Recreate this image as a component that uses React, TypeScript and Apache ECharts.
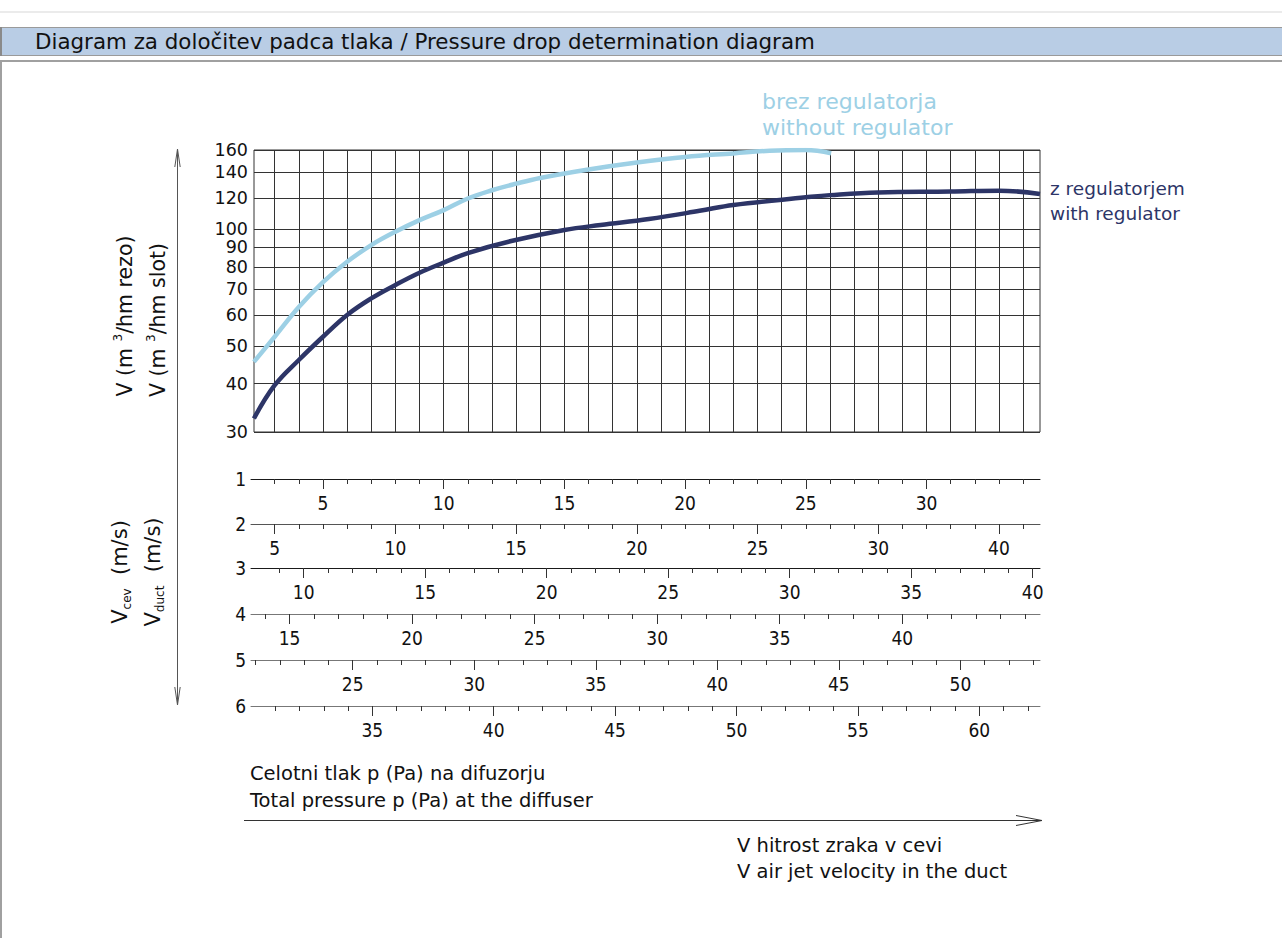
import React, { useEffect, useRef } from "react";
import * as echarts from "echarts";

const FONT = "DejaVu Sans";
const FONT_C = "'DejaVu Sans Condensed', 'DejaVu Sans'";

// ---------- upper chart (log scale) ----------
const yTicks = [30, 40, 50, 60, 70, 80, 90, 100, 120, 140, 160];
// vertical grid lines, in units of pressure scale "1"
const xGridLines = [3, 4, 5, 6, 7, 8, 9, 10, 11, 12, 13, 14, 15, 16, 17, 18, 19, 20, 21, 22, 23, 24, 25, 26, 27, 28, 29, 30, 31, 32, 33, 34];

// curve without regulator (light blue)
const lightX = [2.14, 3, 4, 5, 6, 7, 8, 9, 10, 11, 12, 13, 14, 16, 18, 20, 22, 23.5, 25, 26.05];
const lightY = [45.5, 52.8, 63, 73, 82.4, 91, 98.5, 105.5, 112, 120, 126, 131, 135.5, 142.5, 148.5, 153.5, 156.8, 159.3, 160, 157];

// curve with regulator (dark blue)
const darkX = [2.14, 3, 4, 5, 6, 7, 8, 9, 10, 11, 12.8, 15, 16.5, 18.5, 20.6, 22, 25, 26, 28, 31, 33, 34.7];
const darkY = [32.5, 39.6, 46, 52.8, 60.1, 66.3, 71.8, 77.2, 82, 86.8, 93.2, 99.5, 102.5, 106.2, 111.5, 115.5, 120.8, 122.4, 124.4, 125, 125.7, 123.2];

// ---------- lower pressure scales ----------
const rowNames = ["1", "2", "3", "4", "5", "6"];
const rowMajor = [
  [5, 10, 15, 20, 25, 30],
  [5, 10, 15, 20, 25, 30, 35],
  [10, 15, 20, 25, 30, 35, 40],
  [15, 20, 25, 30, 35, 40],
  [25, 30, 35, 40, 45, 50],
  [35, 40, 45, 50, 55, 60],
];
const rowMajorLabels = [
  ["5", "10", "15", "20", "25", "30"],
  ["5", "10", "15", "20", "25", "30", "40"],
  ["10", "15", "20", "25", "30", "35", "40"],
  ["15", "20", "25", "30", "35", "40"],
  ["25", "30", "35", "40", "45", "50"],
  ["35", "40", "45", "50", "55", "60"],
];
const rowMinorRange = [
  [3, 34],
  [5, 36],
  [9, 40],
  [14, 45],
  [21, 53],
  [31, 62],
];
const rowExtent = [
  [2.018, 34.7],
  [4.018, 36.7],
  [7.831, 40.3],
  [13.426, 45.62],
  [20.815, 53.275],
  [30.003, 62.5],
];

const TITLE = "Diagram za določitev padca tlaka / Pressure drop determination diagram";

function range(a: number, b: number) {
  const r: number[] = [];
  for (let i = a; i <= b; i++) r.push(i);
  return r;
}

export default function App() {
  const ref = useRef<HTMLDivElement>(null);
  useEffect(() => {
    if (!ref.current) return;
    const chart = echarts.init(ref.current, undefined, { renderer: "svg" });

    const rowY = [479, 524, 568, 614, 660, 706];
    const rowLineColor = ["#1a1a1a", "#555", "#1a1a1a", "#777", "#777", "#777"];

    const grids: any[] = [
      { left: 254, top: 150, width: 786, height: 282, show: true, borderColor: "#333", borderWidth: 1 },
    ];
    const xAxes: any[] = [
      {
        gridIndex: 0,
        type: "value",
        min: 2.1425,
        max: 34.7,
        axisLine: { show: false },
        axisTick: { show: false, customValues: xGridLines },
        axisLabel: { show: false },
        splitLine: { show: true, lineStyle: { color: "#333", width: 1 } },
      },
    ];
    const yAxes: any[] = [
      {
        gridIndex: 0,
        type: "log",
        logBase: 10,
        min: 30,
        max: 160,
        axisLine: { show: false },
        axisTick: { show: false, customValues: yTicks },
        axisLabel: {
          show: true,
          customValues: yTicks,
          fontSize: 17.5,
          lineHeight: 15,
          fontFamily: FONT,
          color: "#111",
          margin: 6,
        },
        splitLine: { show: true, lineStyle: { color: "#333", width: 1 } },
      },
    ];

    rowY.forEach((y, i) => {
      grids.push({ left: 251, width: 789, top: y - 20, height: 20, show: false });
      const [mn, mx] = rowExtent[i];
      xAxes.push({
        gridIndex: i + 1,
        type: "value",
        position: "bottom",
        min: mn,
        max: mx,
        axisLine: { show: true, onZero: false, lineStyle: { color: rowLineColor[i], width: 1 } },
        axisTick: { show: true, customValues: range(rowMinorRange[i][0], rowMinorRange[i][1]), length: 5, lineStyle: { color: "#333" } },
        axisLabel: { show: false },
        splitLine: { show: false },
      });
      xAxes.push({
        gridIndex: i + 1,
        type: "value",
        position: "bottom",
        min: mn,
        max: mx,
        axisLine: { show: false, onZero: false },
        axisTick: { show: true, customValues: rowMajor[i], length: 10, lineStyle: { color: "#333" } },
        axisLabel: {
          show: true,
          customValues: rowMajor[i],
          formatter: (v: number) => {
            const k = rowMajor[i].findIndex((m) => Math.abs(m - v) < 1e-6);
            return k >= 0 ? rowMajorLabels[i][k] : "";
          },
          fontSize: 19,
          fontFamily: FONT_C,
          color: "#111",
          margin: 14,
        },
        splitLine: { show: false },
      });
      yAxes.push({
        gridIndex: i + 1,
        type: "value",
        min: 0,
        max: 1,
        axisLine: { show: false },
        axisTick: { show: false },
        splitLine: { show: false },
        axisLabel: {
          show: true,
          customValues: [0],
          formatter: () => rowNames[i],
          fontSize: 19,
          fontFamily: FONT_C,
          color: "#111",
          margin: 5,
        },
      });
    });

    const lightData = lightX.map((x, i) => [x, lightY[i]]);
    const darkData = darkX.map((x, i) => [x, darkY[i]]);

    const txt = (x: number, y: number, text: string, fill: string, fontSize: number, family = FONT) => ({
      type: "text",
      x,
      y,
      z: 10,
      style: { text, fill, fontSize, fontFamily: family, verticalAlign: "middle" },
    });

    const rot = (x: number, y: number, text: string, fontSize: number, rich: any) => ({
      type: "text",
      x,
      y,
      rotation: Math.PI / 2,
      z: 10,
      style: {
        text,
        fill: "#111",
        fontSize,
        fontFamily: FONT,
        align: "center",
        verticalAlign: "middle",
        lineHeight: 26,
        rich,
      },
    });
    const supRich = { sup: { fontSize: 12, fontFamily: FONT, fill: "#111", verticalAlign: "top", lineHeight: 26 } };
    const subRich = { sub: { fontSize: 12, fontFamily: FONT, fill: "#111", verticalAlign: "bottom", lineHeight: 26 } };

    const option: any = {
      animation: false,
      backgroundColor: "#fff",
      grid: grids,
      xAxis: xAxes,
      yAxis: yAxes,
      series: [
        {
          type: "line",
          name: "brez regulatorja",
          xAxisIndex: 0,
          yAxisIndex: 0,
          data: lightData,
          smooth: 0.4,
          symbol: "none",
          lineStyle: { color: "#9dd0e5", width: 4.5 },
          z: 5,
        },
        {
          type: "line",
          name: "z regulatorjem",
          xAxisIndex: 0,
          yAxisIndex: 0,
          data: darkData,
          smooth: 0.4,
          symbol: "none",
          lineStyle: { color: "#2d3567", width: 4.5 },
          z: 5,
        },
      ],
      graphic: {
        elements: [
          { type: "rect", shape: { x: 0, y: 11, width: 1282, height: 2 }, style: { fill: "#ebebeb" } },
          { type: "rect", shape: { x: 0.5, y: 27.5, width: 1290, height: 28 }, style: { fill: "#b9cde5", stroke: "#9a9a9a", lineWidth: 1 } },
          { type: "rect", shape: { x: 0, y: 27, width: 2, height: 29 }, style: { fill: "#8a8a8a" } },
          txt(35, 41, TITLE, "#111", 21.4),
          { type: "rect", shape: { x: 1, y: 61, width: 1300, height: 900 }, style: { fill: "none", stroke: "#a0a0a0", lineWidth: 2 } },
          // vertical double arrow
          { type: "line", shape: { x1: 177.5, y1: 149, x2: 177.5, y2: 705 }, style: { stroke: "#555", lineWidth: 1 } },
          { type: "polyline", shape: { points: [[174.8, 167], [177.5, 149], [180.2, 167]] }, style: { stroke: "#555", lineWidth: 1, fill: "none" } },
          { type: "polyline", shape: { points: [[174.8, 687], [177.5, 705], [180.2, 687]] }, style: { stroke: "#555", lineWidth: 1, fill: "none" } },
          // horizontal arrow
          { type: "line", shape: { x1: 244, y1: 820.5, x2: 1042, y2: 820.5 }, style: { stroke: "#333", lineWidth: 1 } },
          { type: "polyline", shape: { points: [[1016, 815.5], [1042, 820.5], [1016, 825.5]] }, style: { stroke: "#333", lineWidth: 1, fill: "none" } },
          // curve labels
          txt(762, 101, "brez regulatorja", "#9dd0e5", 22),
          txt(762, 127, "without regulator", "#9dd0e5", 22),
          txt(1050, 188, "z regulatorjem", "#2d3567", 18.5),
          txt(1050, 213, "with regulator", "#2d3567", 18.5),
          // bottom texts
          txt(250, 773, "Celotni tlak p (Pa) na difuzorju", "#111", 19.5),
          txt(250, 800, "Total pressure p (Pa) at the diffuser", "#111", 19.5),
          txt(737, 845, "V hitrost zraka v cevi", "#111", 19.5),
          txt(737, 871, "V air jet velocity in the duct", "#111", 19.5),
          // rotated axis titles
          rot(125, 316, "V (m {sup|3}/hm rezo)", 20.5, supRich),
          rot(158, 320, "V (m {sup|3}/hm slot)", 20.5, supRich),
          rot(120, 572, "V{sub|cev}  (m/s)", 21, subRich),
          rot(153, 572, "V{sub|duct}  (m/s)", 21, subRich),
        ],
      },
    };

    chart.setOption(option);
    return () => chart.dispose();
  }, []);

  return <div ref={ref} style={{ position: "absolute", left: 0, top: 0, width: 1282, height: 938 }} />;
}
